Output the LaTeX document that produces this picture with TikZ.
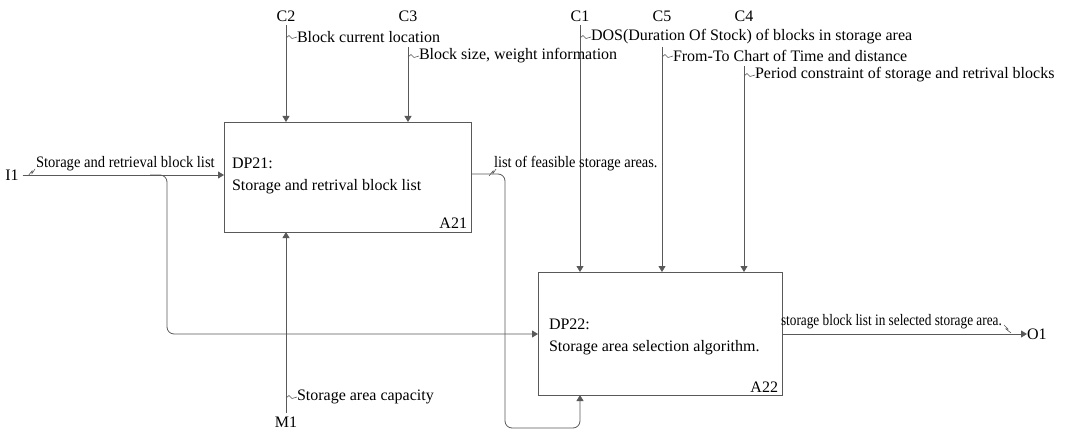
\documentclass[tikz,border=0pt]{standalone}
\usepackage{fontspec}
\usepackage{graphicx}
\setmainfont{Liberation Serif}
\usetikzlibrary{arrows.meta}
\begin{document}
\begin{tikzpicture}[x=1pt,y=-1pt,
  every node/.style={font=\fontsize{16}{21.5}\selectfont, inner sep=0pt, outer sep=0pt},
  ln/.style={draw=black!65, line width=0.8pt},
  arr/.style={ln, -{Triangle[length=6pt,width=7pt]}},
  box/.style={draw=black!65, line width=0.8pt, anchor=north west},
  lbl/.style={anchor=west},
  sq/.style={draw=black!65, line width=0.6pt}]
\useasboundingbox (0,0) rectangle (1069,433);
% boxes
\node[box, minimum width=247pt, minimum height=110pt] (A21) at (224,122) {};
\node[box, minimum width=244pt, minimum height=123pt] (A22) at (538,272) {};
\node[anchor=west, align=left] (t21) at (232,176) {DP21:\\Storage and retrival block list};
\node[anchor=south east] (n21) at (467,229) {A21};
\node[anchor=west, align=left] (t22) at (549,337) {DP22:\\Storage area selection algorithm.};
\node[anchor=south east] (n22) at (778,392) {A22};
% control labels
\node (C2) at (286,16) {C2};
\node (C3) at (408,16) {C3};
\node (C1) at (580,16) {C1};
\node (C5) at (662,16) {C5};
\node (C4) at (744,16) {C4};
\coordinate (c3s) at (408,47);
\coordinate (c5s) at (662,47);
\coordinate (c4s) at (744,66);
\draw[arr] (C2.south) ++(0,4) -- (A21.north -| C2);
\draw[arr] (c3s) -- (A21.north -| C3);
\draw[arr] (C1.south) ++(0,4) -- (A22.north -| C1);
\draw[arr] (c5s) -- (A22.north -| C5);
\draw[arr] (c4s) -- (A22.north -| C4);
% arrow labels
\node[lbl] (l2) at (297,37) {Block current location};
\node[lbl] (l3) at (419,56) {Block size, weight information};
\node[lbl] (l1) at (591,37) {DOS(Duration Of Stock) of blocks in storage area};
\node[lbl] (l5) at (673,56) {From-To Chart of Time and distance};
\node[lbl] (l4) at (755,75) {Period constraint of storage and retrival blocks};
\draw[sq] (286,38) -- (289,35.5) -- (292,38.5) -- (l2.west);
\draw[sq] (408,57) -- (411,54.5) -- (414,57.5) -- (l3.west);
\draw[sq] (580,38) -- (583,35.5) -- (586,38.5) -- (l1.west);
\draw[sq] (662,57) -- (665,54.5) -- (668,57.5) -- (l5.west);
\draw[sq] (744,76) -- (747,73.5) -- (750,76.5) -- (l4.west);
% input
\node (I1) at (12,175) {I1};
\draw[arr] (I1.east) ++(4,0) -- (A21.west |- I1);
\node[lbl] (li) at (36,164) {\scalebox{0.91}[1]{Storage and retrieval block list}};
\draw[sq] (28,176) -- (32,171) -- (32,173.5) -- (35,169);
\draw[arr, rounded corners=7pt] (150,175) -- (167,175) -- (167,334) -- (A22.west |- 0,334);
% A21 output to A22 bottom
\node[lbl] (lo) at (494,164) {\scalebox{0.9}[1]{list of feasible storage areas.}};
\draw[sq] (489,176) -- (493,171) -- (493,173.5) -- (496,169);
\draw[arr, rounded corners=7pt] (A21.east |- 0,174) -- (505,174) -- (505,428) -- (580,428) -- (A22.south -| C1);
% mechanism
\node (M1) at (286,422) {M1};
\draw[arr] (M1.north) ++(0,-4) -- (A21.south -| M1);
\node[lbl] (lm) at (297,397) {Storage area capacity};
\draw[sq] (286,398) -- (289,395.5) -- (292,398.5) -- (lm.west);
% output
\node[anchor=west] (O1) at (1027,334) {O1};
\draw[arr] (A22.east |- 0,334) -- (O1.west);
\node[lbl] (lout) at (781,322) {\scalebox{0.83}[1]{storage block list in selected storage area.}};
\draw[sq] (1004,325) -- (1008,329) -- (1006,329) -- (1011,333);
\end{tikzpicture}
\end{document}
